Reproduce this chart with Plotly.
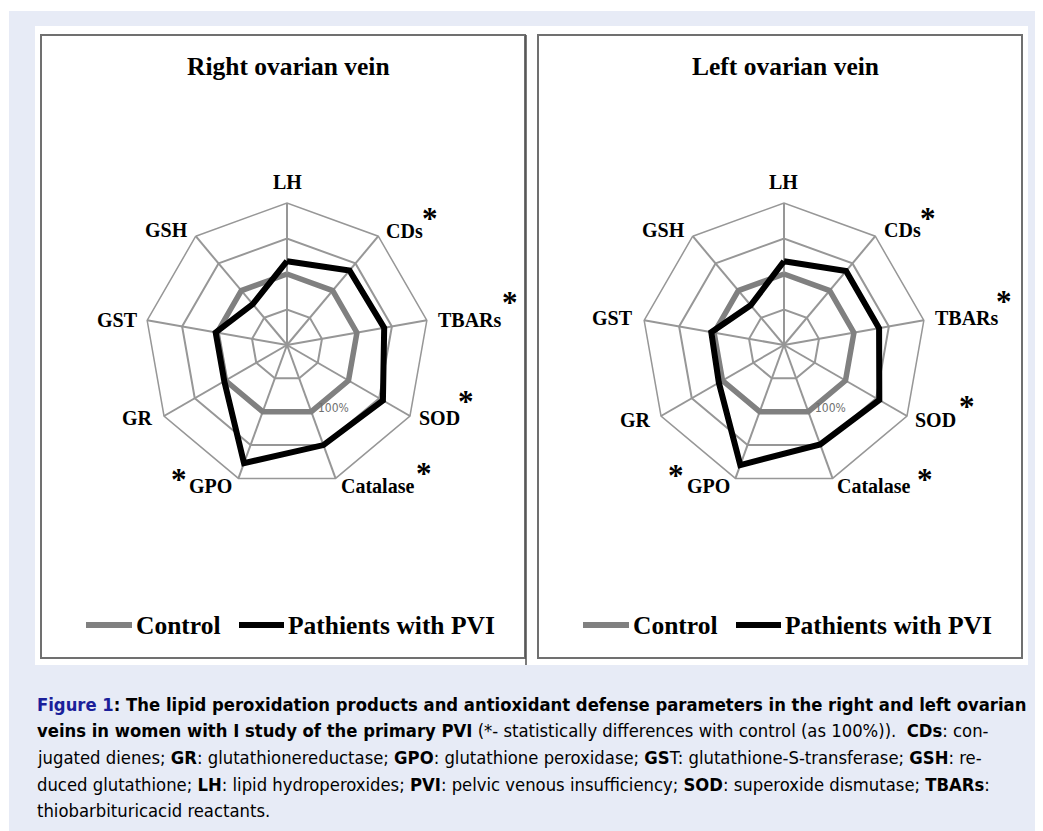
import plotly.graph_objects as go

# ---------------- data ----------------
categories = ["LH", "CDs", "TBARs", "SOD", "Catalase", "GPO", "GR", "GST", "GSH"]
significant = ["CDs", "TBARs", "SOD", "Catalase", "GPO"]

control_right = [100, 100, 100, 100, 100, 100, 100, 100, 100]
pvi_right = [118, 137, 139, 156, 150, 177, 102, 102, 75]

control_left = [100, 100, 100, 100, 100, 100, 100, 100, 100]
pvi_left = [118, 136, 136, 155, 149, 180, 106, 104, 73]

radial_ticks = [50, 100, 150, 200]

series_names = ["Control", "Pathients with PVI"]
panel_titles = ["Right ovarian vein", "Left ovarian vein"]

# ---------------- layout helpers ----------------
OFF = 8            # page body margin of the html page
W, H = 1043 - OFF, 831 - OFF


def px(x):
    return (x - OFF) / W


def py(y):
    return 1 - (y - OFF) / H


SERIF = "Liberation Serif, Times New Roman, serif"
NARROW = "Liberation Sans Narrow, Arial Narrow, DejaVu Sans Condensed, sans-serif"
GRAY = "#808080"
GRID = "#979797"

R = 142
centers = [(287, 345), (784, 345)]

# label placement (pixel anchor, x-anchor) for each category, per panel
label_pos = [
    {"LH": (287, 182, "center"), "CDs": (384, 231, "left"), "TBARs": (436, 320, "left"),
     "SOD": (417, 418, "left"), "Catalase": (339, 486, "left"), "GPO": (234, 486, "right"),
     "GR": (155, 418, "right"), "GST": (140, 320, "right"), "GSH": (190, 230, "right")},
    {"LH": (783, 182, "center"), "CDs": (882, 230, "left"), "TBARs": (933, 318, "left"),
     "SOD": (913, 420, "left"), "Catalase": (835, 486, "left"), "GPO": (732, 486, "right"),
     "GR": (653, 420, "right"), "GST": (635, 318, "right"), "GSH": (687, 230, "right")},
]
star_pos = [
    {"CDs": (430, 214), "TBARs": (510, 298), "SOD": (466, 397), "Catalase": (424, 469),
     "GPO": (179, 475)},
    {"CDs": (928, 214), "TBARs": (1004, 297), "SOD": (967, 402), "Catalase": (925, 475),
     "GPO": (676, 472)},
]

fig = go.Figure()


def closed(v):
    return list(v) + [v[0]]


for i, (ctrl, pvi) in enumerate([(control_right, pvi_right), (control_left, pvi_left)]):
    sub = "polar" if i == 0 else "polar2"
    fig.add_trace(go.Scatterpolar(
        r=closed(ctrl), theta=closed(categories), mode="lines",
        line=dict(color=GRAY, width=5.5), name=series_names[0],
        subplot=sub, showlegend=False))
    fig.add_trace(go.Scatterpolar(
        r=closed(pvi), theta=closed(categories), mode="lines",
        line=dict(color="#000000", width=6), name=series_names[1],
        subplot=sub, showlegend=False))


def polar_layout(cx, cy):
    return dict(
        domain=dict(x=[px(cx - R), px(cx + R)], y=[py(cy + R), py(cy - R)]),
        bgcolor="rgba(0,0,0,0)",
        gridshape="linear",
        radialaxis=dict(range=[0, 200], tickvals=radial_ticks, showticklabels=False,
                        ticks="", showline=False, gridcolor=GRID, gridwidth=1.5),
        angularaxis=dict(direction="clockwise", rotation=90, categoryorder="array",
                         categoryarray=categories, tickvals=categories,
                         showticklabels=False, ticks="",
                         showline=True, linecolor=GRID, linewidth=1.5,
                         gridcolor=GRID, gridwidth=1.5),
    )


fig.update_layout(
    width=W, height=H,
    margin=dict(l=0, r=0, t=0, b=0),
    paper_bgcolor="#ffffff",
    plot_bgcolor="#ffffff",
    showlegend=False,
    polar=polar_layout(*centers[0]),
    polar2=polar_layout(*centers[1]),
)

shapes = []
# light blue page background
shapes.append(dict(type="rect", xref="paper", yref="paper", x0=px(9), x1=px(1050),
                   y0=py(840), y1=py(11), fillcolor="#e7ebf6", line=dict(width=0), layer="below"))
# white figure area
shapes.append(dict(type="rect", xref="paper", yref="paper", x0=px(35), x1=px(1028),
                   y0=py(665), y1=py(26), fillcolor="#ffffff", line=dict(width=0), layer="below"))
# panel frames
for (x0, x1) in [(41, 525), (538, 1022)]:
    shapes.append(dict(type="rect", xref="paper", yref="paper", x0=px(x0), x1=px(x1),
                       y0=py(658), y1=py(35), line=dict(color="#707070", width=2), layer="below"))
shapes.append(dict(type="line", xref="paper", yref="paper", x0=px(526), x1=px(526),
                   y0=py(665), y1=py(35), line=dict(color="#505050", width=1.5)))

annotations = []
# category labels and significance stars
for p in range(2):
    for cat in categories:
        x, y, anc = label_pos[p][cat]
        annotations.append(dict(text="<b>%s</b>" % cat, x=px(x), y=py(y), xref="paper", yref="paper",
                                showarrow=False, xanchor=anc, yanchor="middle",
                                font=dict(family=SERIF, size=20, color="#000000")))
    for cat in significant:
        x, y = star_pos[p][cat]
        annotations.append(dict(text="<b>*</b>", x=px(x), y=py(y + 4), xref="paper", yref="paper",
                                showarrow=False, xanchor="center", yanchor="middle",
                                font=dict(family=SERIF, size=31, color="#000000")))
# panel titles
for t, (cx, cy) in zip(panel_titles, centers):
    annotations.append(dict(text="<b>%s</b>" % t, x=px(cx + 1), y=py(67), xref="paper", yref="paper",
                            showarrow=False, xanchor="center", yanchor="middle",
                            font=dict(family=SERIF, size=25.5, color="#000000")))
# "100%" labels
for (cx, cy) in centers:
    annotations.append(dict(text="100%", x=px(cx + 29), y=py(408), xref="paper", yref="paper",
                            showarrow=False, xanchor="left", yanchor="middle",
                            font=dict(family=NARROW, size=12, color="#707070")))
# legends
for off in [0, 497]:
    shapes.append(dict(type="line", xref="paper", yref="paper", x0=px(86 + off), x1=px(132 + off),
                       y0=py(625), y1=py(625), line=dict(color=GRAY, width=6)))
    shapes.append(dict(type="line", xref="paper", yref="paper", x0=px(239 + off), x1=px(284 + off),
                       y0=py(625), y1=py(625), line=dict(color="#000000", width=6)))
    annotations.append(dict(text="<b>%s</b>" % series_names[0], x=px(134 + off), y=py(625),
                            xref="paper", yref="paper", showarrow=False, xanchor="left",
                            yanchor="middle", font=dict(family=SERIF, size=25.5, color="#000000")))
    annotations.append(dict(text="<b>%s</b>" % series_names[1], x=px(286 + off), y=py(625),
                            xref="paper", yref="paper", showarrow=False, xanchor="left",
                            yanchor="middle", font=dict(family=SERIF, size=25.5, color="#000000")))

# caption
caption_lines = [
    "<b><span style='color:#1b1f9a'>Figure 1</span>: The lipid peroxidation products and antioxidant defense parameters in the right and left ovarian</b>",
    "<b>veins in women with I study of the primary PVI</b> (*- statistically differences with control (as 100%)).  <b>CDs</b>: con-",
    "jugated dienes; <b>GR</b>: glutathionereductase; <b>GPO</b>: glutathione peroxidase; <b>GS</b>T: glutathione-S-transferase; <b>GSH</b>: re-",
    "duced glutathione; <b>LH</b>: lipid hydroperoxides; <b>PVI</b>: pelvic venous insufficiency; <b>SOD</b>: superoxide dismutase; <b>TBARs</b>:",
    "thiobarbituricacid reactants.",
]
for k, line in enumerate(caption_lines):
    annotations.append(dict(text=line, x=px(35), y=py(704 + 26.7 * k), xref="paper", yref="paper",
                            showarrow=False, xanchor="left", yanchor="middle", align="left",
                            font=dict(family=NARROW, size=18.3, color="#000000")))

fig.update_layout(shapes=shapes, annotations=annotations)
fig.write_html("out.html")
